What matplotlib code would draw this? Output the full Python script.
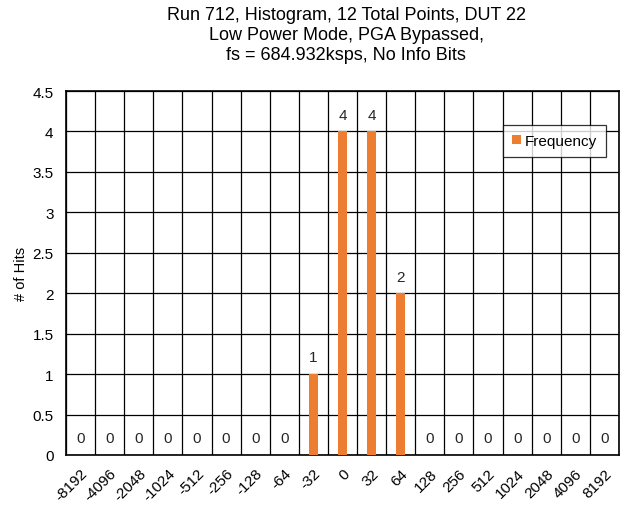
import numpy as np
import matplotlib.pyplot as plt

plt.rcParams['font.family'] = ['Liberation Sans', 'DejaVu Sans']

# Histogram bins and counts
bins = ["-8192", "-4096", "-2048", "-1024", "-512", "-256", "-128", "-64",
        "-32", "0", "32", "64", "128", "256", "512", "1024", "2048",
        "4096", "8192"]
hits = [0, 0, 0, 0, 0, 0, 0, 0, 1, 4, 4, 2, 0, 0, 0, 0, 0, 0, 0]
yticks = [0, 0.5, 1, 1.5, 2, 2.5, 3, 3.5, 4, 4.5]

fig = plt.figure(figsize=(6.23, 5.06), dpi=100)
ax = fig.add_axes([66 / 623, 1 - 456 / 506, 553 / 623, 364 / 506])

x = np.arange(len(bins))
bars = ax.bar(x, hits, width=0.3, color="#ED7D31", label="Frequency", zorder=3)

# data labels
for xi, h in zip(x, hits):
    ax.text(xi, h + 0.12, str(h), ha="center", va="bottom", fontsize=11,
            color="#262626", zorder=4)

ax.set_xlim(-0.5, len(bins) - 0.5)
ax.set_ylim(0, 4.5)
ax.set_yticks(yticks)
ax.set_yticklabels([f"{t:g}" for t in yticks], fontsize=11)
ax.set_xticks(x)
ax.set_xticklabels(bins, rotation=45, ha="right", rotation_mode="anchor",
                   fontsize=11)
ax.set_xticks(np.arange(-0.5, len(bins), 1), minor=True)
ax.tick_params(axis="both", which="both", length=0)
ax.tick_params(axis="x", which="major", pad=8)
ax.tick_params(axis="y", which="major", pad=9)
ax.grid(which="minor", axis="x", color="black", linewidth=0.9, zorder=1)
ax.grid(which="major", axis="y", color="black", linewidth=0.9, zorder=1)
for s in ax.spines.values():
    s.set_color("black")
    s.set_linewidth(1.2)

ax.set_ylabel("# of Hits", fontsize=10.5, va="center")
ax.yaxis.set_label_coords(-0.082, 0.5)

fig.text(0.556, 0.986,
         "Run 712, Histogram, 12 Total Points, DUT 22\n"
         "Low Power Mode, PGA Bypassed,\n"
         "fs = 684.932ksps, No Info Bits",
         ha="center", va="top", fontsize=13, linespacing=1.22)

leg = ax.legend(loc="upper right", bbox_to_anchor=(0.982, 0.915),
                fontsize=11, frameon=True, fancybox=False,
                handlelength=0.55, handleheight=0.55, handletextpad=0.25,
                borderpad=0.6, borderaxespad=0.2)
leg.get_frame().set_edgecolor("black")
leg.get_frame().set_linewidth(0.9)

fig.savefig("out.png", dpi=100)
